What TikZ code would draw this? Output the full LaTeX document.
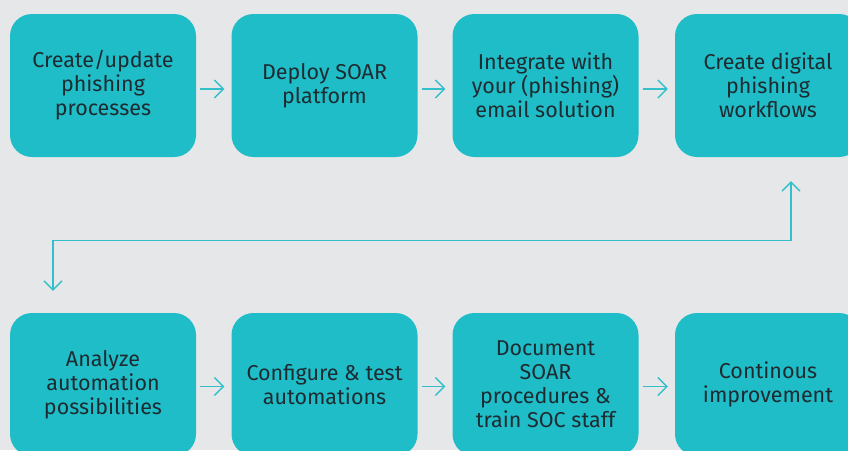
\documentclass[tikz,border=0pt]{standalone}
\usepackage{fontspec}
\setmainfont{Fira Sans}
\usetikzlibrary{arrows.meta,positioning,calc}
\definecolor{soarteal}{HTML}{1FBDC8}
\definecolor{soarline}{HTML}{33C0CB}
\definecolor{soartext}{HTML}{1E2B30}
\definecolor{soarbg}{HTML}{E6E7E9}

\begin{document}
\begin{tikzpicture}[x=1pt, y=-1pt]
  % Phishing playbook roadmap
  \tikzstyle{stage} = [rectangle, rounded corners=22pt, fill=soarteal, minimum width=186pt, minimum height=143pt, inner sep=0pt, font=\fontsize{21.5}{24}\selectfont, text=soartext, align=center]
  \tikzstyle{flow} = [draw=soarline, line width=1.3pt, -{Straight Barb[length=9pt,width=18pt]}]

  % Canvas
  \fill[soarbg] (0,0) rectangle (848,450);
  \clip (0,0) rectangle (848,450);

  % First row
  \node[stage] (proc) at (103, 85.5) {Create/update\\phishing\\processes};
  \node[stage] (deploy) at (324.5, 85.5) {Deploy SOAR\\platform};
  \node[stage] (integ) at (545.5, 85.5) {Integrate with\\your (phishing)\\email solution};
  \node[stage] (wflow) at (768, 85.5) {Create digital\\phishing\\workflows};

  % Second row
  \node[stage] (analyze) at (103, 384.5) {Analyze\\automation\\possibilities};
  \node[stage] (config) at (324.5, 384.5) {Configure \& test\\automations};
  \node[stage] (docu) at (545.5, 384.5) {Document\\SOAR\\procedures \&\\train SOC staff};
  \node[stage] (improve) at (768, 384.5) {Continous\\improvement};

  % Arrows between stages
  \draw[flow] ([xshift=4pt,yshift=-3.5pt]proc.east) -- ([xshift=-7pt,yshift=-3.5pt]deploy.west);
  \draw[flow] ([xshift=4pt,yshift=-3.5pt]deploy.east) -- ([xshift=-7pt,yshift=-3.5pt]integ.west);
  \draw[flow] ([xshift=4pt,yshift=-3.5pt]integ.east) -- ([xshift=-7pt,yshift=-3.5pt]wflow.west);
  \draw[flow] ([xshift=4pt,yshift=-2pt]analyze.east) -- ([xshift=-7pt,yshift=-2pt]config.west);
  \draw[flow] ([xshift=4pt,yshift=-2pt]config.east) -- ([xshift=-7pt,yshift=-2pt]docu.west);
  \draw[flow] ([xshift=4pt,yshift=-2pt]docu.east) -- ([xshift=-7pt,yshift=-2pt]improve.west);

  % Link from the first row back to the second
  \draw[flow, {Straight Barb[length=9pt,width=18pt]}-{Straight Barb[length=9pt,width=18pt]}] ([xshift=23pt,yshift=-24pt]wflow.south) -- ++(0,59) -| ([xshift=-50pt,yshift=22pt]analyze.north);
\end{tikzpicture}
\end{document}
